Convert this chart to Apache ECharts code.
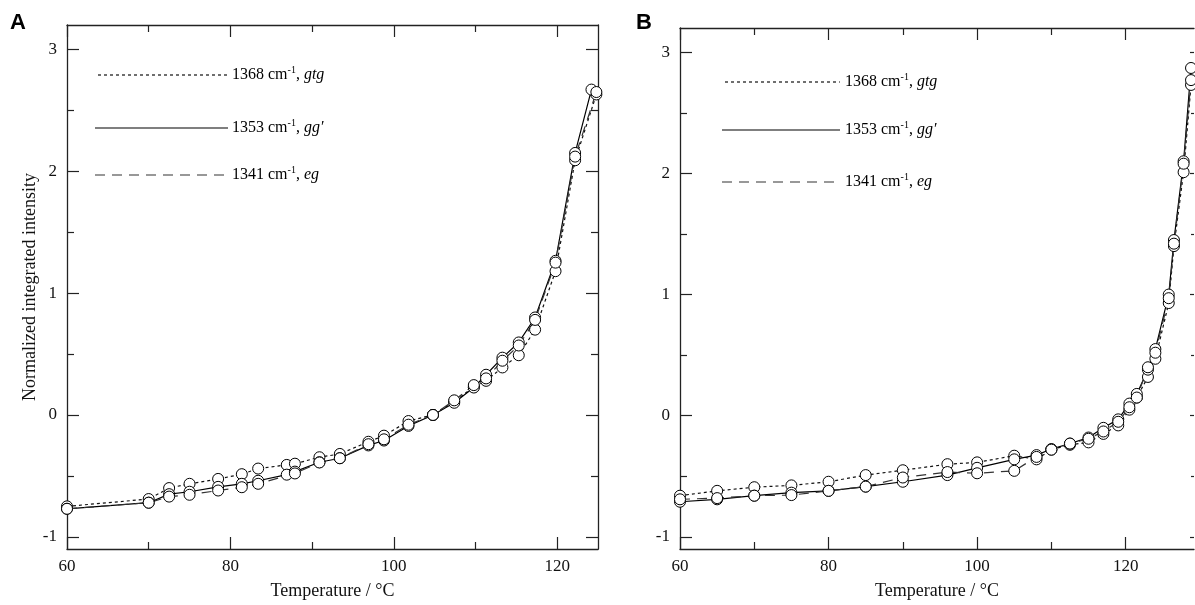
<!DOCTYPE html>
<html>
<head>
<meta charset="utf-8">
<script src="https://cdn.jsdelivr.net/npm/echarts@6/dist/echarts.min.js"></script>
<style>
html,body{margin:0;padding:0;background:#fff;}
#c{width:1195px;height:605px;}
</style>
</head>
<body>
<div id="c"></div>
<script>
// ---- tick labels ----
const xTicksMajor = [60, 80, 100, 120];
const xTicksMinor = [70, 90, 110];
const yTicksMajor = [-1, 0, 1, 2, 3];
const yTicksMinor = [-0.5, 0.5, 1.5, 2.5];

// ---- legend labels ----
const seriesNames = ['1368 cm-1, gtg', '1353 cm-1, gg′', '1341 cm-1, eg'];

// ---- Panel A data (Temperature / °C, normalized integrated intensity) ----
const A_T_gtg = [60, 70, 72.5, 75, 78.5, 81.4, 83.4, 86.9, 87.9, 90.9, 93.4, 96.9, 98.8, 101.8, 104.8, 107.4, 109.8, 111.3, 113.3, 115.3, 117.3, 119.8, 122.2, 124.8];
const A_gtg   = [-0.75, -0.69, -0.60, -0.565, -0.525, -0.486, -0.44, -0.41, -0.40, -0.347, -0.32, -0.22, -0.17, -0.05, 0.0, 0.11, 0.23, 0.28, 0.39, 0.49, 0.70, 1.18, 2.09, 2.63];
const A_T_ggp = [60, 70, 72.5, 75, 78.5, 81.4, 83.4, 86.9, 87.9, 90.9, 93.4, 96.9, 98.8, 101.8, 104.8, 107.4, 109.8, 111.3, 113.3, 115.3, 117.3, 119.8, 122.2, 124.2];
const A_ggp   = [-0.77, -0.72, -0.65, -0.63, -0.59, -0.565, -0.54, -0.49, -0.465, -0.388, -0.355, -0.25, -0.21, -0.09, 0.0, 0.10, 0.225, 0.33, 0.47, 0.595, 0.80, 1.265, 2.15, 2.67];
const A_T_eg  = [60, 70, 72.5, 75, 78.5, 81.4, 83.4, 87.9, 90.9, 93.4, 96.9, 98.8, 101.8, 104.8, 107.4, 109.8, 111.3, 113.3, 115.3, 117.3, 119.8, 122.2, 124.8];
const A_eg    = [-0.77, -0.72, -0.67, -0.655, -0.62, -0.593, -0.565, -0.48, -0.39, -0.355, -0.24, -0.20, -0.08, 0.0, 0.12, 0.245, 0.30, 0.445, 0.57, 0.78, 1.25, 2.12, 2.65];

// ---- Panel B data ----
const B_T   = [60, 65, 70, 75, 80, 85, 90, 96, 100, 105, 108, 110, 112.5, 115, 117, 119, 120.5, 121.5, 123, 124, 125.8, 126.5, 127.8, 128.8];
const B_gtg = [-0.66, -0.62, -0.59, -0.575, -0.545, -0.49, -0.45, -0.40, -0.385, -0.33, -0.36, -0.28, -0.24, -0.22, -0.15, -0.08, 0.05, 0.15, 0.32, 0.47, 0.93, 1.40, 2.01, 2.73];
const B_ggp = [-0.71, -0.69, -0.66, -0.635, -0.62, -0.585, -0.545, -0.49, -0.43, -0.36, -0.325, -0.275, -0.23, -0.18, -0.10, -0.03, 0.10, 0.18, 0.38, 0.55, 1.00, 1.45, 2.10, 2.87];
const B_eg  = [-0.69, -0.68, -0.66, -0.655, -0.62, -0.585, -0.51, -0.465, -0.475, -0.455, -0.34, -0.28, -0.23, -0.19, -0.13, -0.05, 0.07, 0.15, 0.40, 0.52, 0.97, 1.42, 2.08, 2.77];

const SERIF = 'Liberation Serif';
const AX = '#222';
const zip = (xs, ys) => xs.map((x, i) => [x, ys[i]]);

// panel B is cut at the right edge of the picture: its right frame is not visible
const grids = [
  {left: 67, top: 25, right: 597, bottom: 54, xmin: 60, xmax: 125, ymin: -1.1, ymax: 3.2, yName: 'Normalized integrated intensity', rightLine: true, rightTick: [12, 7]},
  {left: 680, top: 28, right: 1, bottom: 54, xmin: 60, xmax: 129.2, ymin: -1.1, ymax: 3.2, yName: '', rightLine: false, rightTick: [4, 3]}
];

const xAxes = [], yAxes = [];
grids.forEach((g, gi) => {
  const mkX = (pos, major, labels) => ({
    type: 'value', gridIndex: gi, position: pos, min: g.xmin, max: g.xmax,
    axisLine: {show: major, onZero: false, lineStyle: {color: AX, width: 1.3}},
    axisTick: {show: true, inside: true, length: major ? 12 : 7, customValues: major ? xTicksMajor : xTicksMinor, lineStyle: {color: AX, width: 1.2}},
    axisLabel: {show: labels, customValues: xTicksMajor, margin: 9, fontFamily: SERIF, fontSize: 17, color: '#111'},
    splitLine: {show: false},
    name: labels ? 'Temperature / °C' : '', nameLocation: 'middle', nameGap: 33,
    nameTextStyle: {fontFamily: SERIF, fontSize: 18, color: '#111'}
  });
  const mkY = (pos, major, labels) => {
    const right = pos === 'right';
    const len = right ? g.rightTick[major ? 0 : 1] : (major ? 12 : 7);
    return {
      type: 'value', gridIndex: gi, position: pos, min: g.ymin, max: g.ymax,
      axisLine: {show: major && (!right || g.rightLine), onZero: false, lineStyle: {color: AX, width: 1.3}},
      axisTick: {show: true, inside: true, length: len, customValues: major ? yTicksMajor : yTicksMinor, lineStyle: {color: AX, width: 1.2}},
      axisLabel: {show: labels, customValues: yTicksMajor, margin: 10, fontFamily: SERIF, fontSize: 17, color: '#111'},
      splitLine: {show: false},
      name: labels ? g.yName : '', nameLocation: 'middle', nameGap: 25,
      nameTextStyle: {fontFamily: SERIF, fontSize: 18, color: '#111'}
    };
  };
  xAxes.push(mkX('bottom', true, true), mkX('bottom', false, false), mkX('top', true, false), mkX('top', false, false));
  yAxes.push(mkY('left', true, true), mkY('left', false, false), mkY('right', true, false), mkY('right', false, false));
});

const styles = [
  {type: [3, 3], color: '#111'},
  {type: 'solid', color: '#000'},
  {type: [10, 7], color: '#333'}
];

function mkSeries(gi, k, data) {
  return {
    type: 'line', xAxisIndex: gi * 4, yAxisIndex: gi * 4, data: data,
    symbol: 'circle', symbolSize: 11, showSymbol: true,
    lineStyle: {color: styles[k].color, width: 1.2, type: styles[k].type},
    itemStyle: {color: '#fff', borderColor: '#000', borderWidth: 1},
    emphasis: {disabled: true}, animation: false, silent: true
  };
}

const series = [
  mkSeries(0, 0, zip(A_T_gtg, A_gtg)),
  mkSeries(0, 1, zip(A_T_ggp, A_ggp)),
  mkSeries(0, 2, zip(A_T_eg, A_eg)),
  mkSeries(1, 0, zip(B_T, B_gtg)),
  mkSeries(1, 1, zip(B_T, B_ggp)),
  mkSeries(1, 2, zip(B_T, B_eg))
];

// ---- in-plot legends ----
function legendText(name) {
  const m = name.match(/^(\d+) cm-1, (.+)$/);
  return '{n|' + m[1] + ' cm}{s|-1}{n|, }{i|' + m[2] + '}';
}
const rich = {
  n: {fontFamily: SERIF, fontSize: 16, color: '#111', lineHeight: 20},
  s: {fontFamily: SERIF, fontSize: 10, color: '#111', lineHeight: 10, verticalAlign: 'top'},
  i: {fontFamily: SERIF, fontSize: 16, fontStyle: 'italic', color: '#111', lineHeight: 20}
};
const legends = [
  {x0: [98, 95, 95], x1: 228, ys: [75, 128, 175], tx: 232},
  {x0: [725, 722, 722], x1: 840, ys: [82, 130, 182], tx: 845}
];
const graphics = [];
legends.forEach(L => {
  seriesNames.forEach((nm, k) => {
    graphics.push({type: 'line', shape: {x1: L.x0[k], y1: L.ys[k], x2: L.x1, y2: L.ys[k]},
      style: {stroke: styles[k].color, lineWidth: 1.2, lineDash: Array.isArray(styles[k].type) ? styles[k].type : null}, silent: true});
    graphics.push({type: 'text', x: L.tx, y: L.ys[k], style: {text: legendText(nm), rich: rich, verticalAlign: 'middle', align: 'left'}, silent: true});
  });
});
graphics.push({type: 'text', x: 10, y: 12, style: {text: 'A', fontFamily: 'Liberation Sans', fontWeight: 'bold', fontSize: 22, fill: '#000'}});
graphics.push({type: 'text', x: 636, y: 12, style: {text: 'B', fontFamily: 'Liberation Sans', fontWeight: 'bold', fontSize: 22, fill: '#000'}});

const chart = echarts.init(document.getElementById('c'), null, {renderer: 'canvas'});
chart.setOption({
  animation: false,
  backgroundColor: '#fff',
  grid: grids.map(g => ({left: g.left, top: g.top, right: g.right, bottom: g.bottom, containLabel: false})),
  xAxis: xAxes,
  yAxis: yAxes,
  series: series,
  graphic: graphics
});
</script>
</body>
</html>
